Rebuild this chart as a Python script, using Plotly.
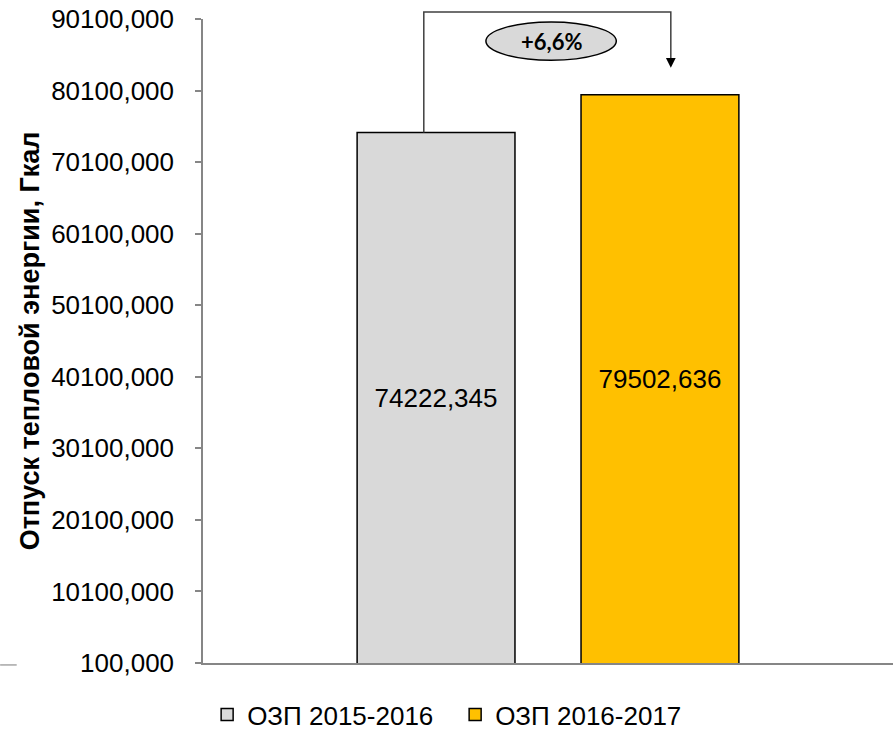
import plotly.graph_objects as go

# ---- data ----
series_names = ["ОЗП 2015-2016", "ОЗП 2016-2017"]
series_values = [74222.345, 79502.636]
series_colors = ["#D9D9D9", "#FFC000"]
category = [""]
tick_values = [100, 10100, 20100, 30100, 40100, 50100, 60100, 70100, 80100, 90100]
change_label = "+6,6%"
y_title = "Отпуск тепловой энергии, Гкал"


def ru_fmt(v):
    return f"{v:.3f}".replace(".", ",")


tick_text = [ru_fmt(v) for v in tick_values]
ymin, ymax = tick_values[0], tick_values[-1]

fig = go.Figure()
for name, val, col in zip(series_names, series_values, series_colors):
    fig.add_trace(go.Bar(
        x=category, y=[val], name=name,
        marker=dict(color=col, line=dict(color="#000000", width=1.5)),
        text=[ru_fmt(val)], textposition="inside", insidetextanchor="middle",
        textangle=0,
        textfont=dict(family="Liberation Sans, Arial", size=26, color="#000000"),
        hoverinfo="skip",
    ))

fig.update_layout(
    width=893, height=730,
    margin=dict(l=203, r=0, t=19, b=67, autoexpand=False),
    paper_bgcolor="white", plot_bgcolor="white",
    barmode="group", bargap=0.351, bargroupgap=0.295,
    font=dict(family="Liberation Sans, Arial", size=26, color="#000000"),
    showlegend=True,
    legend=dict(orientation="h", x=0.006, xanchor="left", y=-0.08, yanchor="middle",
                font=dict(size=26), traceorder="normal", entrywidth=203),
)
fig.update_xaxes(showline=True, linecolor="#868686", linewidth=1.5,
                 showticklabels=False, ticks="", showgrid=False, zeroline=False,
                 fixedrange=True, automargin=False)
fig.update_yaxes(range=[ymin, ymax], tickmode="array", tickvals=tick_values, ticktext=tick_text,
                 showline=True, linecolor="#868686", linewidth=1.5,
                 ticks="outside", ticklen=6, tickcolor="#868686", tickwidth=1.5,
                 showgrid=False, zeroline=False, ticklabelstandoff=16, automargin=False,
                 tickfont=dict(size=26),
                 title=dict(text=y_title, font=dict(size=27, family="Liberation Sans, Arial", weight="bold"),
                            standoff=4))


def to_paper(v):
    return (v - ymin) / (ymax - ymin)


# connector bracket (paper coordinates derived from the data values)
x_left, x_right = 0.320, 0.678
y_top = 1.011
y_start = to_paper(series_values[0])
y_arrow = to_paper(series_values[1]) + 0.042
line_style = dict(color="#404040", width=1.5)
fig.add_shape(type="path", xref="paper", yref="paper",
              path=f"M {x_left},{y_start} L {x_left},{y_top} L {x_right},{y_top} L {x_right},{y_arrow + 0.012}",
              line=line_style)
fig.add_annotation(xref="paper", yref="paper", x=x_right, y=y_arrow, ax=0, ay=-10,
                   showarrow=True, arrowhead=2, arrowsize=1.3,
                   arrowwidth=1.5, arrowcolor="#000000", text="")
# ellipse with change label
fig.add_shape(type="circle", xref="paper", yref="paper",
              x0=0.410, x1=0.599, y0=0.936, y1=0.9953,
              fillcolor="#D9D9D9", line=dict(color="#000000", width=1.5))
fig.add_annotation(xref="paper", yref="paper", x=0.5045, y=0.9658, text=f"<b>{change_label}</b>",
                   showarrow=False, yanchor="middle",
                   font=dict(family="Lato, Open Sans", size=22, color="#000000"))
# short stray axis stub at bottom-left
fig.add_shape(type="line", xref="paper", yref="paper", x0=-0.294, x1=-0.27, y0=-0.003, y1=-0.003,
              line=dict(color="#A6A6A6", width=1.5))

fig.write_html("out.html", config={"displayModeBar": False},
               post_script="document.body.style.margin='0px';document.body.style.padding='0px';")
